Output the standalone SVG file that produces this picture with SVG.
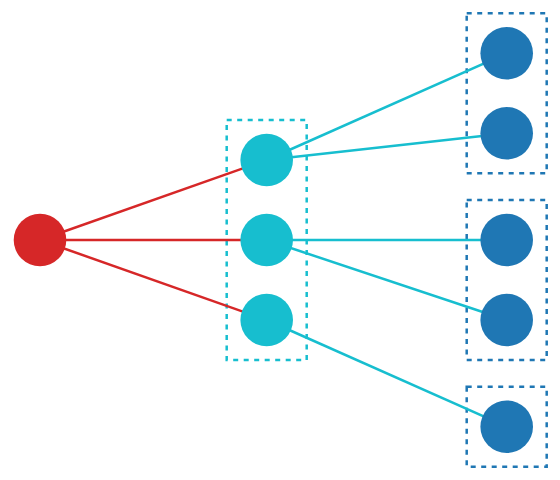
<svg xmlns="http://www.w3.org/2000/svg" width="560" height="480" viewBox="0 0 560 480">
<style>
.edge-red{stroke:#d62728;stroke-width:2.5;fill:none}
.edge-cyan{stroke:#17becf;stroke-width:2.5;fill:none}
.box-cyan{fill:none;stroke:#17becf;stroke-width:2.5;stroke-dasharray:5,5.5}
.box-blue{fill:none;stroke:#1f77b4;stroke-width:2.5;stroke-dasharray:5,5.5}
.n-red{fill:#d62728}
.n-cyan{fill:#17becf}
.n-blue{fill:#1f77b4}
</style>
<rect width="560" height="480" fill="#ffffff"/>
<g id="groups">
<rect class="box-cyan" x="226.7" y="120" width="80" height="240"/>
<rect class="box-blue" x="466.7" y="13.3" width="80" height="160"/>
<rect class="box-blue" x="466.7" y="200" width="80" height="160"/>
<rect class="box-blue" x="466.7" y="386.7" width="80" height="80"/>
</g>
<g id="connectors">
<line class="edge-red" x1="40" y1="240" x2="266.7" y2="160"/>
<line class="edge-red" x1="40" y1="240" x2="266.7" y2="240"/>
<line class="edge-red" x1="40" y1="240" x2="266.7" y2="320"/>
<line class="edge-cyan" x1="266.7" y1="160" x2="506.7" y2="53.3"/>
<line class="edge-cyan" x1="266.7" y1="160" x2="506.7" y2="133.3"/>
<line class="edge-cyan" x1="266.7" y1="240" x2="506.7" y2="240"/>
<line class="edge-cyan" x1="266.7" y1="240" x2="506.7" y2="320"/>
<line class="edge-cyan" x1="266.7" y1="320" x2="506.7" y2="426.7"/>
</g>
<g id="root"><circle class="n-red" cx="40" cy="240" r="26.3"/></g>
<g id="mid1"><circle class="n-cyan" cx="266.7" cy="160" r="26.3"/></g>
<g id="mid2"><circle class="n-cyan" cx="266.7" cy="240" r="26.3"/></g>
<g id="mid3"><circle class="n-cyan" cx="266.7" cy="320" r="26.3"/></g>
<g id="leaf1"><circle class="n-blue" cx="506.7" cy="53.3" r="26.3"/></g>
<g id="leaf2"><circle class="n-blue" cx="506.7" cy="133.3" r="26.3"/></g>
<g id="leaf3"><circle class="n-blue" cx="506.7" cy="240" r="26.3"/></g>
<g id="leaf4"><circle class="n-blue" cx="506.7" cy="320" r="26.3"/></g>
<g id="leaf5"><circle class="n-blue" cx="506.7" cy="426.7" r="26.3"/></g>
</svg>
